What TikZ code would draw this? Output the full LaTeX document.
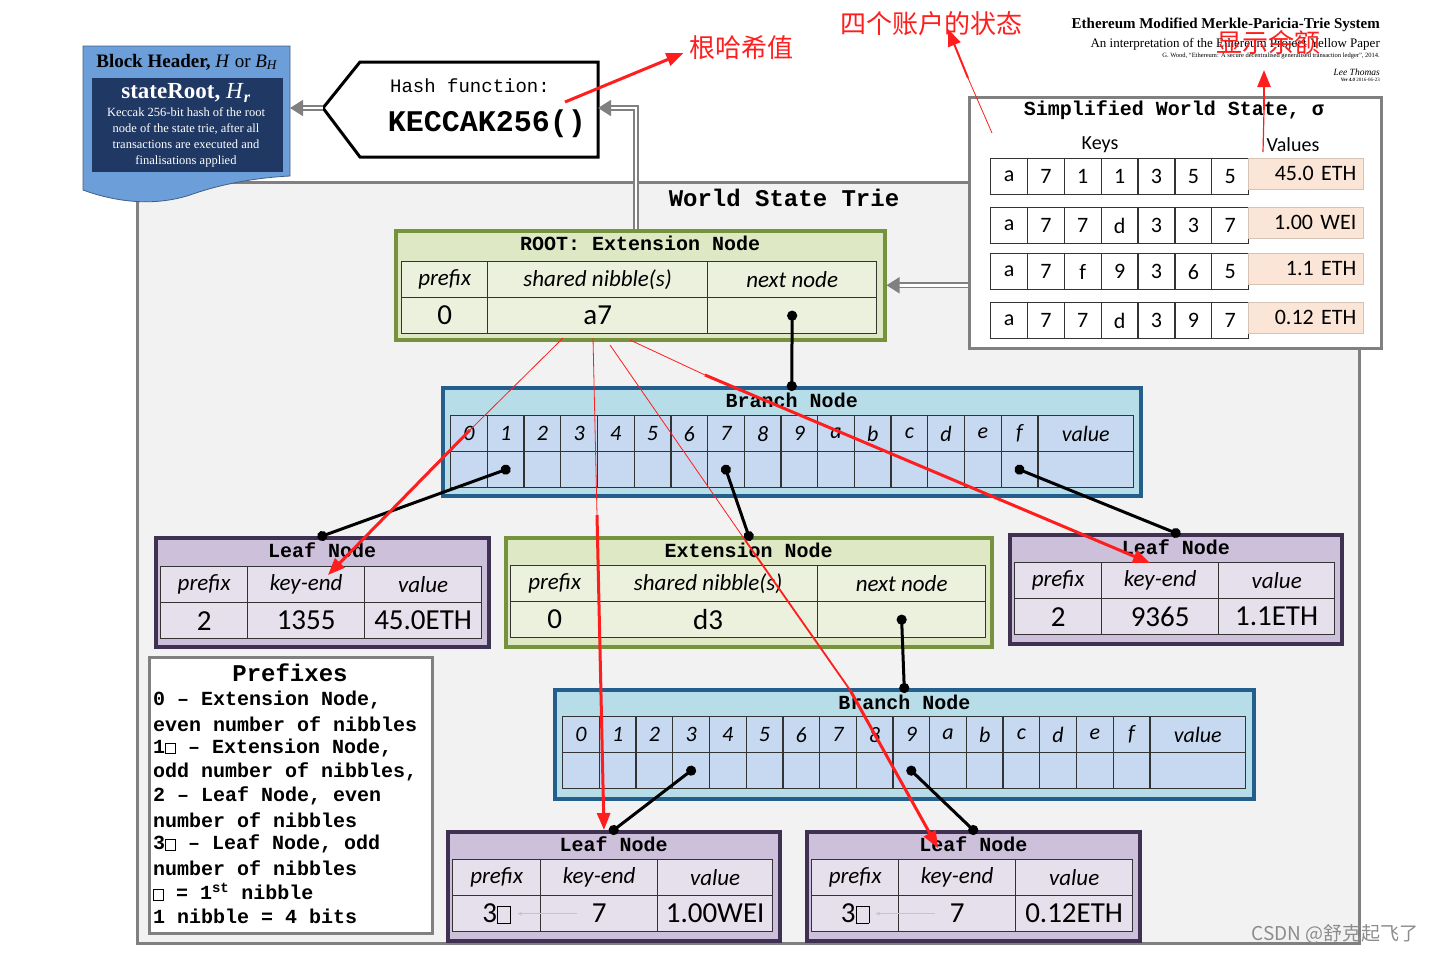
\documentclass[tikz,border=0pt]{standalone}
\usepackage{fontspec}
\setmainfont{Liberation Serif}
\newfontfamily\monofont{Liberation Mono}
\newfontfamily\califont{Carlito}
\newfontfamily\cjkfont{Noto Sans CJK SC}
\usetikzlibrary{arrows.meta,positioning,calc}

\definecolor{extfill}{RGB}{222,232,196}
\definecolor{extcell}{RGB}{236,241,222}
\definecolor{extline}{RGB}{118,146,60}
\definecolor{brfill}{RGB}{183,221,232}
\definecolor{brcell}{RGB}{198,217,241}
\definecolor{brline}{RGB}{36,94,140}
\definecolor{lffill}{RGB}{204,192,218}
\definecolor{lfcell}{RGB}{229,224,236}
\definecolor{lfline}{RGB}{63,49,81}
\definecolor{valfill}{RGB}{251,229,214}
\definecolor{hdrblue}{RGB}{108,158,218}
\definecolor{hdrnavy}{RGB}{31,56,100}
\definecolor{note}{RGB}{255,30,30}

\newcommand{\fsz}[1]{\fontsize{#1}{#1}\selectfont}
\newcommand{\nib}[2]{{\setlength{\fboxsep}{0pt}\setlength{\fboxrule}{0.9pt}\fbox{\rule{0pt}{#2}\hspace{#1}}}}

\tikzset{
  box/.style={anchor=north west, inner sep=0pt, line width=3.5pt},
  extbox/.style={box, fill=extfill, draw=extline},
  brbox/.style={box, fill=brfill, draw=brline},
  lfbox/.style={box, fill=lffill, draw=lfline},
  cell/.style={anchor=north west, inner sep=0pt, draw=black!80, line width=1.3pt, minimum height=36pt},
  hcell/.style={cell, font=\califont\itshape\fsz{23}},
  vcell/.style={cell, font=\califont\fsz{29}},
  bcell/.style={cell, fill=brcell, minimum width=36.7pt, font=\califont\itshape\fsz{22}},
  kcell/.style={cell, fill=white, minimum width=36.85pt, font=\califont\fsz{22}},
  valcell/.style={anchor=north west, fill=valfill, draw=valfill!85!black, line width=0.6pt, minimum height=31pt, text width=101pt, inner xsep=7pt, inner ysep=0pt, align=right, font=\califont\fsz{22}},
  ttl/.style={font=\monofont\bfseries\fsz{20}},
  dotlink/.style={line width=3pt, shorten <=-5pt, shorten >=-5pt, {Circle[length=10pt]}-{Circle[length=10pt]}},
  feed/.style={draw=gray, double=white, double distance=2.5pt, line width=1.6pt, -{Triangle[length=13pt,width=16pt]}},
  ghost/.style={draw=blue!20!gray!40, line width=0.8pt, -{Stealth[length=5pt]}},
  redarr/.style={draw=note, line width=3pt, -{Triangle[length=17pt,width=13pt]}},
  redthin/.style={draw=note, line width=0.8pt},
  redtext/.style={text=note, font=\cjkfont\fsz{26}},
}

% header row and value row of a three column node
\newcommand{\tricells}[4]{%
  \foreach \xa/\xb/\hd/\vl [count=\i] in {#4} {
    \node[hcell, fill=#2, minimum width={(\xb-\xa)*1pt}] (#1-h\i) at (\xa,#3) {\hd};
    \node[vcell, fill=#2, minimum width={(\xb-\xa)*1pt}] (#1-v\i) at (\xa,#3+36) {\vl};
  }}

\begin{document}
\begin{tikzpicture}[x=1pt,y=-1pt]
  \useasboundingbox (0,0) rectangle (1434,954);

  % world state trie frame
  \node[box, fill=black!5, draw=black!50, line width=2.5pt, minimum width=1222pt, minimum height=761pt] (trie) at (136,181) {};
  \node[ttl, font=\monofont\bfseries\fsz{24}] (trie-t) at (784,198) {World State Trie};

  % block header
  \fill[hdrblue, draw=hdrblue!60!black, line width=0.8pt] (83,46) -- (290,46) -- (290,176) .. controls (250,178) and (215,186) .. (190,195) .. controls (150,208) and (110,200) .. (83,190) -- cycle;
  \node[box, fill=hdrnavy, line width=0pt, minimum width=191pt, minimum height=94pt] (bh-in) at (92,78) {};
  \node[font=\fsz{19}] (bh-t) at (187,62) {\textbf{Block Header,} \textit{H} or \textit{B}\textsubscript{\textit{H}}};
  \node[text=white, font=\bfseries\fsz{23}] (bh-r) at (186,93) {stateRoot, \textit{\mdseries H}\textsubscript{\textit{r}}};
  \node[text=white, align=center, font=\fontsize{12.5}{16}\selectfont] (bh-d) at (186,137) {Keccak 256-bit hash of the root\\node of the state trie, after all\\transactions are executed and\\finalisations applied};
  \coordinate (bh-e) at (290,108);

  % hash function
  \coordinate (hash-tip) at (323,108);
  \coordinate (hash-e) at (598,108);
  \draw[line width=3pt, fill=white] (hash-tip) -- (360,62) -- (598,62) -- (598,157) -- (360,157) -- cycle;
  \node[font=\monofont\fsz{19}] (hash-a) at (470,86) {Hash function:};
  \node[font=\monofont\bfseries\fsz{30}] (hash-b) at (487,124) {KECCAK256()};

  % title block
  \node[anchor=east, inner sep=0pt, font=\bfseries\fsz{15}] (doc-a) at (1380,25) {Ethereum Modified Merkle-Paricia-Trie System};
  \node[anchor=east, inner sep=0pt, font=\fsz{13}] (doc-b) at (1380,44) {An interpretation of the Ethereum Project Yellow Paper};
  \node[anchor=east, inner sep=0pt, font=\fsz{6.5}] (doc-c) at (1380,56) {G. Wood, “Ethereum: A secure decentralised generalised transaction ledger”, 2014.};
  \node[anchor=east, inner sep=0pt, font=\itshape\fsz{9.5}] (doc-d) at (1380,72) {Lee Thomas};
  \node[anchor=east, inner sep=0pt, font=\fsz{5}] (doc-e) at (1380,80) {\textbf{\textit{Ver 4.0}} 2016-06-23};

  % simplified world state
  \node[box, fill=white, draw=black!50, line width=3pt, minimum width=412pt, minimum height=251pt] (ws) at (968,96) {};
  \node[ttl] (ws-t) at (1174,110) {Simplified World State, σ};
  \node[font=\califont\fsz{20}] (ws-k) at (1100,145) {Keys};
  \node[font=\califont\fsz{20}] (ws-val) at (1293,145) {Values};
  \foreach \yr/\keys/\val [count=\r] in {158/{a,7,1,1,3,5,5}/45.0 ETH, 207/{a,7,7,d,3,3,7}/1.00 WEI, 253/{a,7,f,9,3,6,5}/1.1 ETH, 302/{a,7,7,d,3,9,7}/0.12 ETH}{
    \foreach \k [count=\c from 0] in \keys
      \node[kcell] (ws-\r-\c) at ({990+36.85*\c},\yr) {\k};
    \node[valcell] (ws-\r-v) at (1248,\yr) {\val};
  }

  % root extension node
  \node[extbox, minimum width=489pt, minimum height=109pt] (root) at (394,229) {};
  \node[ttl] (root-t) at ([yshift=-14pt]root.north) {ROOT: Extension Node};
  \tricells{root}{extcell}{261}{401/487/prefix/0, 487/707/shared nibble(s)/a7, 707/876/next node/}

  % first branch node
  \node[brbox, minimum width=698pt, minimum height=108pt] (bra) at (441,386) {};
  \node[ttl] (bra-t) at ([yshift=-14pt]bra.north) {Branch Node};
  \foreach \lb [count=\i from 0] in {0,1,2,3,4,5,6,7,8,9,a,b,c,d,e,f}{
    \node[bcell] (bra-h\lb) at ({450+36.7*\i},415) {\lb};
    \node[bcell] (bra-v\lb) at ({450+36.7*\i},451) {};
  }
  \node[bcell, minimum width=95.8pt] (bra-hval) at (1037.2,415) {value};
  \node[bcell, minimum width=95.8pt] (bra-vval) at (1037.2,451) {};

  % second level
  \node[lfbox, minimum width=333pt, minimum height=109pt] (leafa) at (154,536) {};
  \node[ttl] (leafa-t) at ([yshift=-14pt]leafa.north) {Leaf Node};
  \tricells{leafa}{lfcell}{566}{160/247/prefix/2, 247/364/key-end/1355, 364/481/value/45.0ETH}

  \node[extbox, minimum width=486pt, minimum height=109pt] (extb) at (504,536) {};
  \node[ttl] (extb-t) at ([yshift=-14pt]extb.north) {Extension Node};
  \tricells{extb}{extcell}{565}{510/598/prefix/0, 598/817/shared nibble(s)/d3, 817/985/next node/}

  \node[lfbox, minimum width=332pt, minimum height=109pt] (leafc) at (1008,533) {};
  \node[ttl] (leafc-t) at ([yshift=-14pt]leafc.north) {Leaf Node};
  \tricells{leafc}{lfcell}{562}{1014/1101/prefix/2, 1101/1218/key-end/9365, 1218/1334/value/1.1ETH}

  % second branch node
  \node[brbox, minimum width=699pt, minimum height=109pt] (brb) at (553,688) {};
  \node[ttl] (brb-t) at ([yshift=-14pt]brb.north) {Branch Node};
  \foreach \lb [count=\i from 0] in {0,1,2,3,4,5,6,7,8,9,a,b,c,d,e,f}{
    \node[bcell] (brb-h\lb) at ({562+36.7*\i},716) {\lb};
    \node[bcell] (brb-v\lb) at ({562+36.7*\i},752) {};
  }
  \node[bcell, minimum width=95.8pt] (brb-hval) at (1149.2,716) {value};
  \node[bcell, minimum width=95.8pt] (brb-vval) at (1149.2,752) {};

  % bottom leaves
  \node[lfbox, minimum width=332pt, minimum height=109pt] (leafd) at (446,830) {};
  \node[ttl] (leafd-t) at ([yshift=-14pt]leafd.north) {Leaf Node};
  \tricells{leafd}{lfcell}{859}{452/540/prefix/3\nib{12pt}{16pt}, 540/657/key-end/7, 657/772/value/1.00WEI}

  \node[lfbox, minimum width=333pt, minimum height=109pt] (leafe) at (805,830) {};
  \node[ttl] (leafe-t) at ([yshift=-14pt]leafe.north) {Leaf Node};
  \tricells{leafe}{lfcell}{859}{811/898/prefix/3\nib{12pt}{16pt}, 898/1015/key-end/7, 1015/1132/value/0.12ETH}

  \draw[ghost] ([xshift=-22pt]leafd-v2.center) -- ([xshift=-24pt]leafd-v1.east);
  \draw[ghost] ([xshift=-22pt]leafe-v2.center) -- ([xshift=-24pt]leafe-v1.east);

  % prefixes legend
  \node[box, fill=white, draw=black!50, line width=3pt, minimum width=283pt, minimum height=276pt] (pf) at (148,656) {};
  \node[ttl, font=\monofont\bfseries\fsz{24}] (pf-t) at (290,673) {Prefixes};
  \foreach \ln [count=\i from 0] in {{0 – Extension Node,}, {even number of nibbles}, {1\nib{9pt}{10pt} – Extension Node,}, {odd number of nibbles,}, {2 – Leaf Node, even}, {number of nibbles}, {3\nib{9pt}{10pt} – Leaf Node, odd}, {number of nibbles}, {\nib{9pt}{10pt} = 1\textsuperscript{st} nibble}, {1 nibble = 4 bits}}
    \node[anchor=west, inner sep=0pt, font=\monofont\bfseries\fsz{20}] (pf-\i) at (153,700+24*\i) {\ln};

  % links
  \draw[dotlink] (root-v3.center) -- (bra.north);
  \draw[dotlink] (bra-v1.center) -- (leafa.north);
  \draw[dotlink] (bra-v7.center) -- (extb.north);
  \draw[dotlink] (bra-vf.center) -- (leafc.north);
  \draw[dotlink] (extb-v3.center) -- (brb.north);
  \draw[dotlink] (brb-v3.center) -- (leafd.north);
  \draw[dotlink] (brb-v9.center) -- (leafe.north);

  % hash feeds
  \coordinate (root-up) at (636,229);
  \draw[feed] (hash-tip) -- (bh-e);
  \draw[feed] (root-up) |- (hash-e);
  \draw[feed] (ws.west |- root.east) -- (root.east);

  % red notes
  \node[redtext] (n-root) at (741,48) {根哈希值};
  \node[redtext] (n-state) at (931,24) {四个账户的状态};
  \node[redtext] (n-bal) at (1268,43) {显示余额};
  \coordinate (r-hash) at (565,102);
  \draw[redarr] (r-hash) -- ([xshift=-2pt,yshift=-5pt]n-root.west);
  \coordinate (r-ws) at (992,133);
  \coordinate (r-ws2) at (968,78);
  \draw[redthin] (r-ws) -- (r-ws2);
  \draw[redarr, line width=2pt] (r-ws2) -- ([xshift=17pt,yshift=-5pt]n-state.center);
  \coordinate (r-val) at (1263,152);
  \coordinate (r-val2) at (1264,110);
  \draw[redthin, line width=1.2pt] (r-val) -- (r-val2);
  \draw[redarr, line width=2.5pt] (r-val2) -- (1264,70);

  \coordinate (a7-a) at (563,338);
  \coordinate (a7-b) at (593,338);
  \coordinate (a7-c) at (610,345);
  \coordinate (a7-d) at (630,340);
  \draw[redthin] (a7-a) -- (470,430);
  \draw[redarr] (470,430) -- (328,575);
  \draw[redthin] (a7-b) -- (597,515);
  \draw[redarr] (597,515) -- (604,830);
  \draw[redthin] (a7-c) -- (745,540);
  \draw[redthin, line width=1.8pt] (745,540) -- (850,690);
  \draw[redarr] (850,690) -- (938,848);
  \draw[redthin] (a7-d) -- (705,375);
  \draw[redarr] (705,375) -- (1150,563);

  \node[anchor=east, text=black!45, font=\cjkfont\fsz{19}] (wm) at (1422,934) {CSDN @舒克起飞了};
\end{tikzpicture}
\end{document}
